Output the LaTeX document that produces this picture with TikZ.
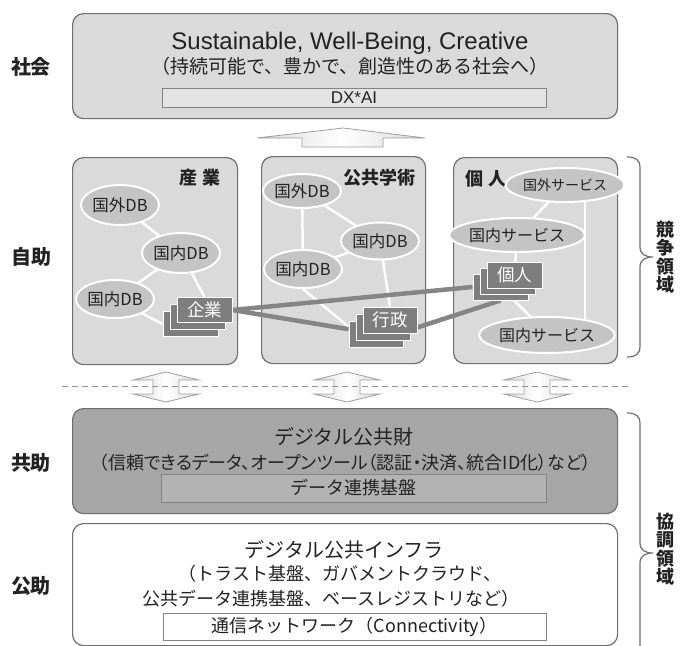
\documentclass[tikz,border=0pt]{standalone}
\usepackage{fontspec}
\setmainfont{Noto Sans CJK JP}
\newfontfamily\lat{Liberation Sans}
\newfontfamily\jpp[RawFeature=+palt]{Noto Sans CJK JP}
\usetikzlibrary{shapes.geometric,calc}
\newcommand{\myfs}[1]{\fontsize{#1}{#1}\selectfont}
\definecolor{boxedge}{HTML}{6E6E6E}
\definecolor{lightbox}{HTML}{DADADA}
\definecolor{midbox}{HTML}{A6A6A6}
\definecolor{inlight}{HTML}{E3E3E3}
\definecolor{inmid}{HTML}{B2B2B2}
\definecolor{ellfill}{HTML}{C4C4C4}
\definecolor{cardfill}{HTML}{7E7E7E}
\definecolor{txt}{HTML}{222222}
\definecolor{thickc}{HTML}{858585}
\pgfdeclarelayer{back}
\pgfdeclarelayer{mid}
\pgfsetlayers{back,mid,main}
\tikzset{
  every node/.style={text=txt},
  panel/.style={draw=boxedge, line width=1.2pt, rounded corners=11pt, anchor=north west, inner sep=0pt},
  inbox/.style={draw=boxedge!85, line width=0.8pt, inner sep=0pt, font=\myfs{18}},
  ell/.style={ellipse, draw=white, line width=2pt, fill=ellfill, inner sep=0pt, font=\myfs{16.5}},
  card/.style={draw=white, line width=1pt, fill=cardfill, inner sep=0pt, minimum width=55pt, minimum height=25pt, text=white, font=\myfs{17.5}},
  wline/.style={white, line width=2.5pt},
  gline/.style={thickc, line width=4.5pt},
  brace/.style={draw=boxedge, line width=1.2pt},
  arr/.style={draw=gray!75, line width=0.8pt, left color=gray!30, right color=gray!30, middle color=white},
  sidelab/.style={font=\bfseries\myfs{20}},
  vlab/.style={font=\bfseries\fontsize{18}{18.5}\selectfont, align=center},
  plab/.style={font=\bfseries\myfs{18}}
}
\begin{document}
\begin{tikzpicture}[x=1pt,y=-1pt]
\useasboundingbox (0,0) rectangle (681,646);

% ---------- panels ----------
\begin{pgfonlayer}{back}
\fill[white] (0,0) rectangle (681,646);
\node[panel, fill=lightbox, minimum width=545pt, minimum height=105pt] (soc) at (72,13) {};
\node[panel, fill=lightbox, minimum width=165pt, minimum height=207pt] (ind) at (72,157) {};
\node[panel, fill=lightbox, minimum width=164pt, minimum height=207pt] (pub) at (261,156) {};
\node[panel, fill=lightbox, minimum width=164pt, minimum height=206pt] (per) at (453,157) {};
\node[panel, fill=midbox, minimum width=545pt, minimum height=105pt] (kyo) at (72,408) {};
\node[panel, fill=white, minimum width=545pt, minimum height=122pt] (ko) at (72,523) {};
\end{pgfonlayer}

% ---------- top box ----------
\node[font=\lat\myfs{24}] (socT) at (350,43) {Sustainable, Well-Being, Creative};
\node[font=\myfs{19}] (socJ) at (350,66) {（持続可能で、豊かで、創造性のある社会へ）};
\node[inbox, fill=inlight, minimum width=384pt, minimum height=19pt, font=\lat\myfs{17}] (dx) at (354,97.5) {DX*AI};

% up arrow
\draw[arr] (257,138) -- (343,128) -- (425,138) -- (383,138) -- (383,147) -- (302,147) -- (302,138) -- cycle;

% ---------- panel labels ----------
\node[plab] (indL) at (200,178) {産\hspace{5pt}業};
\node[plab] (pubL) at (379,178) {公共学術};
\node[plab] (perL) at (486,179) {個\hspace{6pt}人};

% ---------- industry ----------
\node[ell, minimum width=70pt, minimum height=40pt] (iG) at (120,205) {国外DB};
\node[ell, minimum width=67pt, minimum height=40pt] (iN1) at (181,253) {国内DB};
\node[ell, minimum width=67pt, minimum height=38pt] (iN2) at (115,299) {国内DB};
\node[card] (iCb) at (190.5,324) {};
\node[card] (iCm) at (197.5,317) {};
\node[card] (iC) at (204.5,310) {企業};

% ---------- public / academic ----------
\node[ell, minimum width=67pt, minimum height=34pt] (pG) at (302,191) {国外DB};
\node[ell, minimum width=67pt, minimum height=37pt] (pR) at (380,241) {国内DB};
\node[ell, minimum width=67pt, minimum height=38pt] (pL) at (303,269) {国内DB};
\node[card, minimum width=54pt, minimum height=26pt] (pCb) at (376,334) {};
\node[card, minimum width=54pt, minimum height=26pt] (pCm) at (383,327) {};
\node[card, minimum width=54pt, minimum height=26pt] (pC) at (390,320) {行政};

% ---------- personal ----------
\node[ell, minimum width=86pt, minimum height=34pt, font=\myfs{14}] (qG) at (565,185) {国外サービス};
\node[ell, minimum width=113pt, minimum height=34pt, font=\myfs{16}] (qU) at (517,235) {国内サービス};
\node[ell, minimum width=113pt, minimum height=36pt, font=\myfs{16}] (qL) at (547,335) {国内サービス};
\node[card, minimum height=26pt] (qCb) at (500.5,287) {};
\node[card, minimum height=26pt] (qCm) at (507.5,281) {};
\node[card, minimum height=26pt] (qC) at (514.5,275) {個人};

% ---------- connectors ----------
\begin{pgfonlayer}{mid}
\draw[wline] (iG.center) -- (iN1.center);
\draw[wline] (iN1.center) -- (iN2.center);
\draw[wline] (iN1.center) -- (iC.north);
\draw[wline] (iN2.center) -- (iCb.west);
\draw[wline] (pG.center) -- (pL.center);
\draw[wline] (pG.center) -- (pR.center);
\draw[wline] (pR.center) -- (pL.center);
\draw[wline] (pR.center) -- (pC.north);
\draw[wline] (pL.south) -- (pCb.165);
\draw[wline] (qG.center) -- (qU.center);
\draw[wline] (qU.center) -- (qC.center);
\draw[wline] (qCb.center) -- ($(qL.center)+(-10,-12)$);
\draw[wline] ([xshift=20pt]qG.center) -- ([xshift=38pt]qL.center);
\draw[gline] (iC.east) -- (qCb.west);
\draw[gline] (iC.east) -- (pCb.170);
\draw[gline] (pC.-15) -- (qCb.south);
\end{pgfonlayer}

% ---------- double arrows and dashed line ----------
\foreach \c in {166,347,537}{
  \draw[arr] (\c,372) -- (\c+33,380) -- (\c+13,380) -- (\c+13,394) -- (\c+33,394) -- (\c,402)
    -- (\c-33,394) -- (\c-13,394) -- (\c-13,380) -- (\c-33,380) -- cycle;
}
\draw[gray!85, line width=1pt, dash pattern=on 6pt off 4pt] (62,386) -- (630,386);

% ---------- lower boxes ----------
\node[font=\myfs{20}] (kyoT) at (344,437) {デジタル公共財};
\node[font=\jpp\myfs{18}] (kyoJ) at (345,463) {（信頼できるデータ、オープンツール（認証・決済、統合ID化）など）};
\node[inbox, fill=inmid, minimum width=385pt, minimum height=28pt] (dl) at (353.5,488) {データ連携基盤};

\node[font=\myfs{20}] (koT) at (344,550) {デジタル公共インフラ};
\node[font=\myfs{18}] (koJ1) at (340,574) {（トラスト基盤、ガバメントクラウド、};
\node[font=\myfs{18}] (koJ2) at (331,599) {公共データ連携基盤、ベースレジストリなど）};
\node[inbox, fill=white, minimum width=383pt, minimum height=27pt] (net) at (354.5,626.5) {通信ネットワーク（Connectivity）};

% ---------- side labels ----------
\node[sidelab] (l1) at (31,67) {社会};
\node[sidelab] (l2) at (32,257) {自助};
\node[sidelab] (l3) at (31,463) {共助};
\node[sidelab] (l4) at (31,586) {公助};
\node[vlab] (r1) at (665,257) {競\\争\\領\\域};
\node[vlab] (r2) at (665,549) {協\\調\\領\\域};

% braces
\draw[brace] (627,157) .. controls (636,157) and (640,160) .. (640,168) -- (640,247)
  .. controls (640,254) and (645,257) .. (653,257) .. controls (645,257) and (640,260) .. (640,267)
  -- (640,346) .. controls (640,354) and (636,357) .. (627,357);
\draw[brace] (627,413) .. controls (636,413) and (640,416) .. (640,424) -- (640,543)
  .. controls (640,550) and (645,553) .. (653,553) .. controls (645,553) and (640,556) .. (640,563)
  -- (640,682) .. controls (640,690) and (636,693) .. (627,693);
\end{tikzpicture}
\end{document}
